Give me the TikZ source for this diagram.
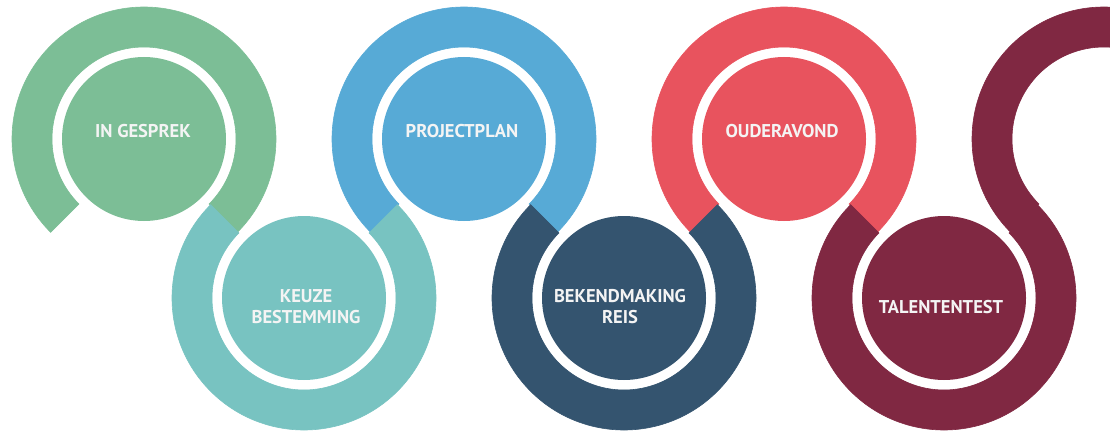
\documentclass[tikz,border=0pt]{standalone}
\usepackage{fontspec}
\setmainfont{PT Sans}
\usetikzlibrary{calc}
\definecolor{cgreen}{HTML}{7CBE96}
\definecolor{cteal}{HTML}{78C3C1}
\definecolor{cblue}{HTML}{57AAD6}
\definecolor{cnavy}{HTML}{34546F}
\definecolor{cred}{HTML}{E8535E}
\definecolor{cmaroon}{HTML}{802842}
\definecolor{ctext}{HTML}{F4F4F4}
\newcommand\Ro{132}
\newcommand\Ri{92}
\newcommand\sector[3]{($(#1)+(#2:\Ro)$) arc[start angle=#2,end angle=#3,radius=\Ro] -- ($(#1)+(#3:\Ri)$) arc[start angle=#3,end angle=#2,radius=\Ri] -- cycle}
\begin{document}
\begin{tikzpicture}[x=1pt,y=1pt,
  band/.style={fill=#1,draw=#1,line width=0.6pt,line join=miter},
  disk/.style={circle,minimum size=164pt,inner sep=0pt,fill=#1},
  lbl/.style={text=ctext,align=center,font=\bfseries\fontsize{18.5}{21}\selectfont}]
\useasboundingbox (0,0) rectangle (1110,432);
\clip (0,0) rectangle (1110,432);
\coordinate (c1) at (144,293);
\coordinate (c2) at (304,134);
\coordinate (c3) at (464,293);
\coordinate (c4) at (624,134);
\coordinate (c5) at (784,293);
\coordinate (c6) at (944,134);
\coordinate (c7) at (1104,293);
\path[band=cgreen] \sector{c1}{225}{-45};
\path[band=cblue] \sector{c3}{225}{-45};
\path[band=cred] \sector{c5}{225}{-45};
\path[band=cteal] \sector{c2}{135}{405};
\path[band=cnavy] \sector{c4}{135}{405};
\path[band=cmaroon] \sector{c6}{135}{405} \sector{c7}{0}{225};
\node[disk=cgreen] (d1) at (c1) {};
\node[disk=cteal] (d2) at (c2) {};
\node[disk=cblue] (d3) at (c3) {};
\node[disk=cnavy] (d4) at (c4) {};
\node[disk=cred] (d5) at (c5) {};
\node[disk=cmaroon] (d6) at (c6) {};
\node[lbl] (t1) at ($(d1)+(-1,8)$) {IN GESPREK};
\node[lbl] (t2) at ($(d2)+(2,-9)$) {KEUZE\\BESTEMMING};
\node[lbl] (t3) at ($(d3)+(-2,8)$) {PROJECTPLAN};
\node[lbl] (t4) at ($(d4)+(-4,-9)$) {BEKENDMAKING\\REIS};
\node[lbl] (t5) at ($(d5)+(-2,8)$) {OUDERAVOND};
\node[lbl] (t6) at ($(d6)+(-3,-9)$) {TALENTENTEST};
\end{tikzpicture}
\end{document}
